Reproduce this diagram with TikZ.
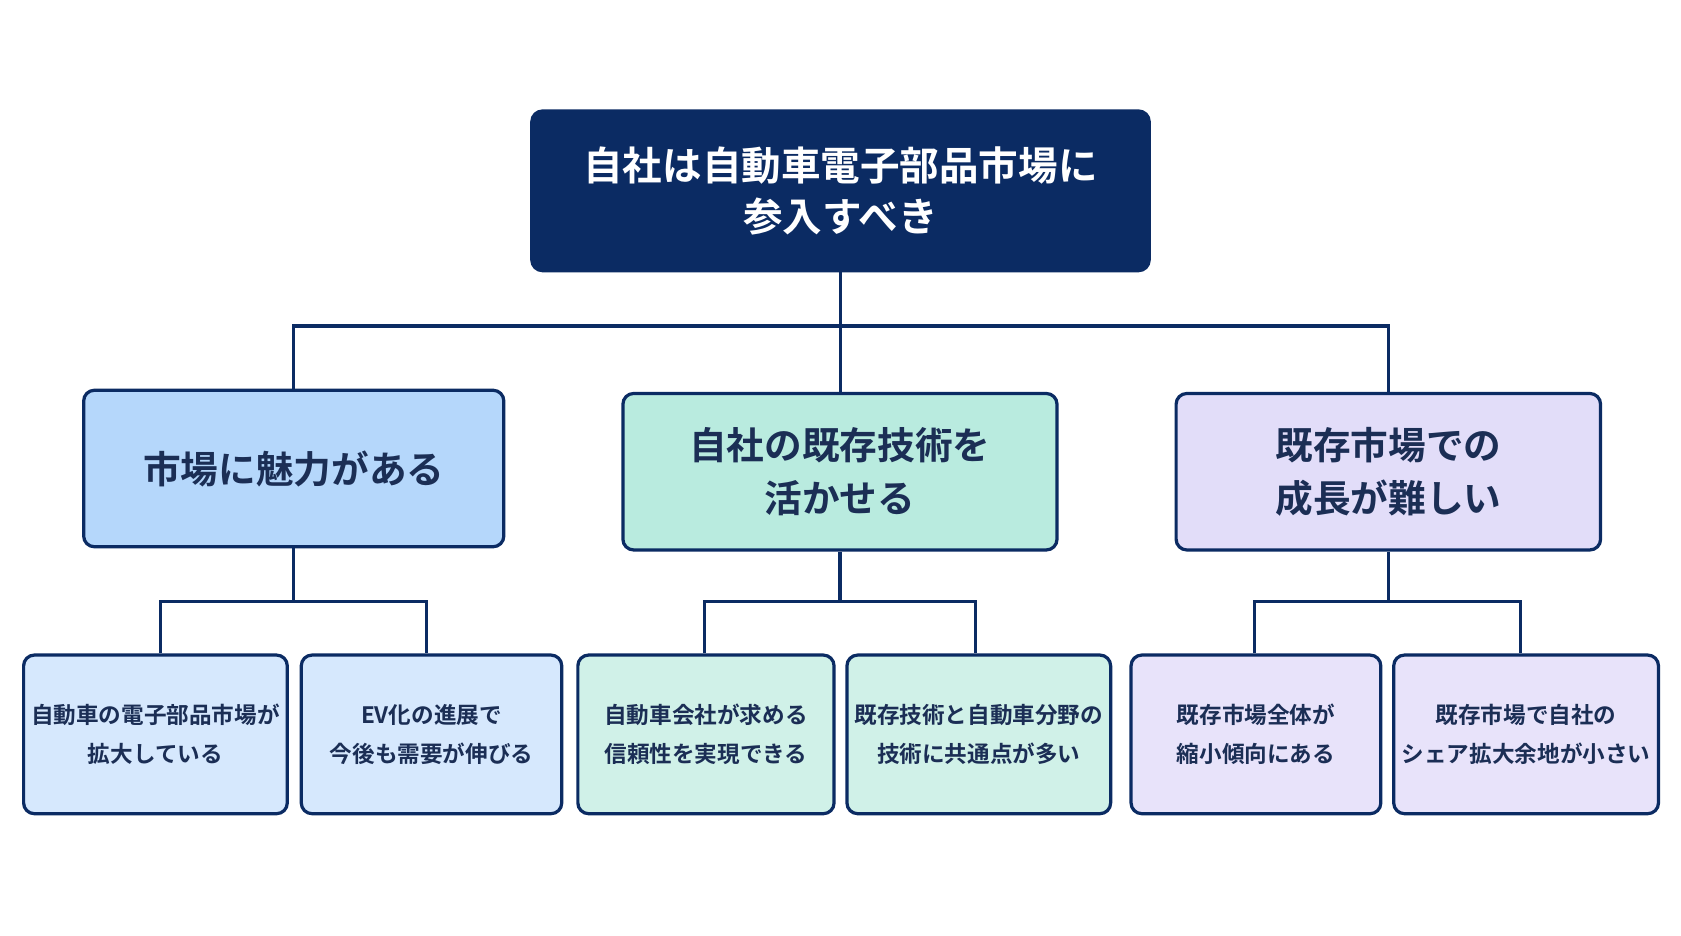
\documentclass[tikz,border=0pt]{standalone}
\usepackage{fontspec}
\newfontfamily\jpfont{Noto Sans CJK JP}[BoldFont={* Bold}]
\usetikzlibrary{positioning}
\definecolor{navy}{HTML}{0B2B63}
\definecolor{ink}{HTML}{1B2E55}
\definecolor{blueA}{HTML}{B5D7FB}
\definecolor{blueB}{HTML}{D6E8FD}
\definecolor{greenA}{HTML}{B9EBDF}
\definecolor{greenB}{HTML}{D0F1E8}
\definecolor{purpA}{HTML}{E2DDF9}
\definecolor{purpB}{HTML}{E8E3FA}
\begin{document}
\begin{tikzpicture}[
    x=0.02cm, y=-0.02cm,
    every node/.style={font=\jpfont\bfseries, align=center, text=ink},
    box/.style={draw=navy, line width=0.6mm, rounded corners=2mm, inner sep=0pt},
    topbox/.style={box, fill=navy, text=white, font=\jpfont\bfseries\fontsize{21}{27.5}\selectfont,
      minimum width=11.52cm, minimum height=2.98cm},
    midbox/.style={box, font=\jpfont\bfseries\fontsize{20}{28}\selectfont, minimum height=2.92cm},
    leafbox/.style={box, font=\jpfont\bfseries\fontsize{12}{20.5}\selectfont, minimum height=2.96cm},
    link/.style={draw=navy, line width=0.6mm}
  ]
    \useasboundingbox[fill=white] (0,0) rectangle (1568,873);

    \node[topbox] (top) at (784,178) {自社は自動車電子部品市場に\\参入すべき};

    \node[midbox, fill=blueA,  minimum width=7.84cm] (mkt) at (274,437)    {市場に魅力がある};
    \node[midbox, fill=greenA, minimum width=8.10cm] (tec) at (783.5,440)  {自社の既存技術を\\活かせる};
    \node[midbox, fill=purpA,  minimum width=7.92cm] (grw) at (1295,440)   {既存市場での\\成長が難しい};

    \node[leafbox, fill=blueB,  minimum width=4.92cm] (mktA) at (145,685)    {自動車の電子部品市場が\\拡大している};
    \node[leafbox, fill=blueB,  minimum width=4.86cm] (mktB) at (402.5,685)  {EV化の進展で\\今後も需要が伸びる};
    \node[leafbox, fill=greenB, minimum width=4.78cm] (tecA) at (658.5,685)  {自動車会社が求める\\信頼性を実現できる};
    \node[leafbox, fill=greenB, minimum width=4.92cm] (tecB) at (913,685)    {既存技術と自動車分野の\\技術に共通点が多い};
    \node[leafbox, fill=purpB,  minimum width=4.66cm] (grwA) at (1171.5,685) {既存市場全体が\\縮小傾向にある};
    \node[leafbox, fill=purpB,  minimum width=4.94cm] (grwB) at (1423.5,685) {既存市場で自社の\\シェア拡大余地が小さい};

    % connectors
    \coordinate (busT) at (784,304);
    \draw[link] (top.south) -- (top.south |- tec.north);
    \draw[link] (mkt.north) |- (busT) -| (grw.north);

    \coordinate (busM) at (274,561);
    \coordinate (busC) at (783.5,561);
    \coordinate (busG) at (1295,561);
    \draw[link] (mkt.south) -- (busM);
    \draw[link] (tec.south) -- (busC);
    \draw[link] (grw.south) -- (busG);
    \draw[link] ([xshift=0.1cm]mktA.north) |- (busM) -| ([xshift=-0.1cm]mktB.north);
    \draw[link] ([xshift=-0.03cm]tecA.north) |- (busC) -| ([xshift=-0.06cm]tecB.north);
    \draw[link] ([xshift=-0.03cm]grwA.north) |- (busG) -| ([xshift=-0.11cm]grwB.north);
\end{tikzpicture}
\end{document}
